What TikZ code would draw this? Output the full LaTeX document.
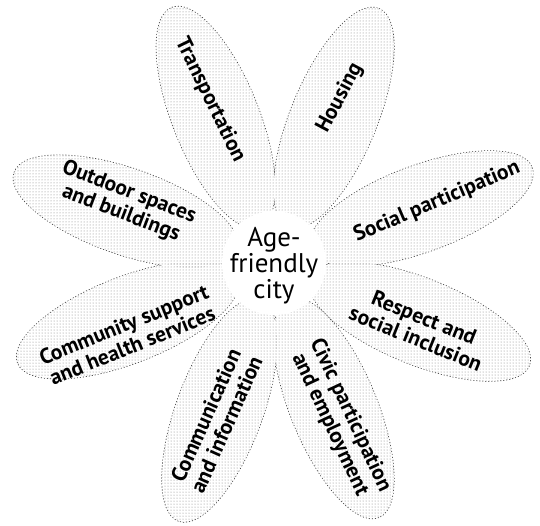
\documentclass[tikz,border=0pt]{standalone}
\usepackage{fontspec}
\setmainfont{PT Sans}
\usetikzlibrary{patterns,calc}
\begin{document}
\begin{tikzpicture}[x=1pt,y=-1pt,
  lbl/.style={font=\bfseries\fontsize{21.5}{22.5}\selectfont, align=center, inner sep=0pt},
  ctr/.style={font=\fontsize{27}{26}\selectfont, align=center, inner sep=0pt},
  petaledge/.style={draw=black!80, line width=1.4pt, dash pattern=on 1.1pt off 1.9pt},
  petalwhite/.style={fill=white},
  petaldots/.style={pattern=dots, pattern color=black!50}
]
\useasboundingbox (0,0) rectangle (540,525);
\coordinate (C) at (274,263);
\def\petalangles{20.3,67.6,111.8,160.8,201.3,249.7,292.4,338.1}
\foreach \a in \petalangles {
  \path[petaledge, shift={($(C)+(\a:157pt)$)}, rotate=\a] (0,0) ellipse [x radius=118, y radius=43];
}
\foreach \a in \petalangles {
  \path[petalwhite, shift={($(C)+(\a:157pt)$)}, rotate=\a] (0,0) ellipse [x radius=118, y radius=43];
}
\foreach \a in \petalangles {
  \path[petaldots, shift={($(C)+(\a:157pt)$)}, rotate=\a] (0,0) ellipse [x radius=118, y radius=43];
}
\fill[white] (C) circle [radius=52];
\node[ctr] (center) at (274,266) {Age-\\friendly\\city};
\node[lbl, rotate=-64] (transport) at (210,100) {Transportation};
\node[lbl, rotate=62] (housing) at (340,98) {Housing};
\node[lbl, rotate=23] (social) at (437,202) {Social participation};
\node[lbl, rotate=-22] (respect) at (420,328) {Respect and\\social inclusion};
\node[lbl, rotate=-65] (civic) at (340,420) {Civic participation\\and employment};
\node[lbl, rotate=66] (comm) at (216,420) {Communication\\and information};
\node[lbl, rotate=22] (community) at (128,335) {Community support\\and health services};
\node[lbl, rotate=-21] (outdoor) at (125,203) {Outdoor spaces\\and buildings};
\end{tikzpicture}
\end{document}
